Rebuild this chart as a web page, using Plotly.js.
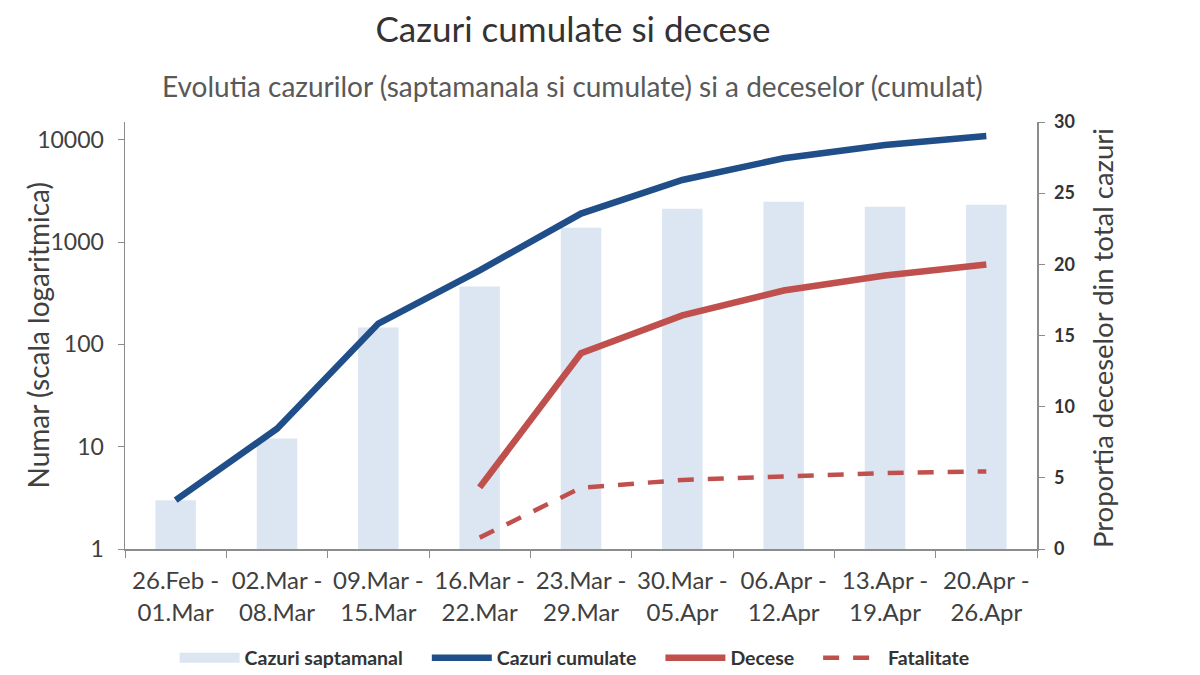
<!DOCTYPE html>
<html>
<head>
<meta charset="utf-8">
<script src="https://cdn.plot.ly/plotly-3.0.1.min.js"></script>
<style>
  html, body { margin: 0; padding: 0; background: #fff; }
  #chart { width: 1200px; height: 675px; }
</style>
</head>
<body>
<div id="chart"></div>
<script>
// etichete saptamani
const weeks = [
    '26.Feb -<br>01.Mar', '02.Mar -<br>08.Mar', '09.Mar -<br>15.Mar',
    '16.Mar -<br>22.Mar', '23.Mar -<br>29.Mar', '30.Mar -<br>05.Apr',
    '06.Apr -<br>12.Apr', '13.Apr -<br>19.Apr', '20.Apr -<br>26.Apr'
];
// valori
const weeklyCases = [3, 12, 146, 368, 1385, 2122, 2483, 2220, 2322];
const cumulativeCases = [3, 15, 160, 530, 1900, 4050, 6600, 8900, 10900];
const deaths = [null, null, null, 4, 82, 192, 336, 471, 603];
const fatality = [null, null, null, 0.8, 4.3, 4.85, 5.06, 5.33, 5.45];

const leftTicks = [1, 10, 100, 1000, 10000];

const fontFamily = 'Lato, "Open Sans", sans-serif';
const axisGray = '#8c8c8c';
const textColor = '#404040';
const barColor = '#dce6f2';

// spatiu intre intrarile din legenda (ca in Excel)
const pad = '\u00a0\u00a0\u00a0\u00a0';

const traces = [
    // doar pentru legenda (simbol lat ca in Excel)
    {
        x: [weeks[0]], y: [null], type: 'scatter', mode: 'lines', name: 'Cazuri saptamanal' + pad,
        line: { color: barColor, width: 12 }, yaxis: 'y', hoverinfo: 'skip'
    },
    {
        x: weeks, y: weeklyCases, type: 'bar', name: 'Cazuri saptamanal',
        marker: { color: barColor }, yaxis: 'y', showlegend: false
    },
    {
        x: weeks, y: cumulativeCases, type: 'scatter', mode: 'lines', name: 'Cazuri cumulate' + pad,
        line: { color: '#1f4e89', width: 6.5 }, yaxis: 'y'
    },
    {
        x: weeks, y: deaths, type: 'scatter', mode: 'lines', name: 'Decese' + pad,
        line: { color: '#c0504d', width: 6.5 }, yaxis: 'y'
    },
    {
        x: weeks, y: fatality, type: 'scatter', mode: 'lines', name: 'Fatalitate',
        line: { color: '#c0504d', width: 4.5, dash: '16px,14px' }, yaxis: 'y2'
    }
];

const layout = {
    width: 1200, height: 675,
    paper_bgcolor: '#fff', plot_bgcolor: '#fff',
    font: { family: fontFamily, color: textColor, size: 18 },
    margin: { t: 122, b: 126, l: 125, r: 163, autoexpand: false },
    bargap: 0.6,
    showlegend: true,
    title: {
        text: 'Cazuri cumulate si decese',
        font: { size: 35, color: '#333' },
        xref: 'container', yref: 'container',
        x: 0.4775, xanchor: 'center', y: 1 - 30 / 675, yanchor: 'middle'
    },
    annotations: [
        {
            text: 'Evolutia cazurilor (saptamanala si cumulate) si a deceselor (cumulat)',
            xref: 'paper', yref: 'paper', x: 0.491, y: 1.0843,
            xanchor: 'center', yanchor: 'middle', showarrow: false,
            font: { size: 28, color: '#595959' }
        },
        {
            text: 'Numar (scala logaritmica)',
            xref: 'paper', yref: 'paper', x: -0.0955, y: 0.5,
            xanchor: 'center', yanchor: 'middle', showarrow: false, textangle: -90,
            font: { size: 28, color: textColor }
        },
        {
            text: 'Proportia deceselor din total cazuri',
            xref: 'paper', yref: 'paper', x: 1.0713, y: 0.494,
            xanchor: 'center', yanchor: 'middle', showarrow: false, textangle: -90,
            font: { size: 27.5, color: textColor }
        }
    ],
    xaxis: {
        type: 'category',
        showline: true, linecolor: axisGray, linewidth: 1.5,
        ticks: 'outside', tickson: 'boundaries', ticklen: 7, tickcolor: axisGray,
        tickfont: { size: 24, color: textColor }, ticklabelstandoff: 10,
        showgrid: false, zeroline: false
    },
    yaxis: {
        type: 'log', range: [0, 4.174],
        tickvals: leftTicks, ticktext: leftTicks.map(String),
        showline: true, linecolor: axisGray, linewidth: 1.5,
        ticks: 'outside', ticklen: 6, tickcolor: axisGray,
        tickfont: { size: 23, color: textColor }, ticklabelstandoff: 9,
        showgrid: false, zeroline: false
    },
    yaxis2: {
        overlaying: 'y', side: 'right', range: [0, 30], dtick: 5,
        showline: true, linecolor: axisGray, linewidth: 1.5,
        ticks: 'outside', ticklen: 6, tickcolor: axisGray,
        tickfont: { size: 18, color: '#333', weight: 'bold' }, ticklabelstandoff: 6,
        showgrid: false, zeroline: false
    },
    legend: {
        orientation: 'h', xref: 'paper', x: 0.493, xanchor: 'center',
        y: -0.2553, yanchor: 'middle',
        font: { size: 19.5, color: '#333', weight: 'bold' },
        itemwidth: 60, tracegroupgap: 0
    }
};

Plotly.newPlot('chart', traces, layout, { displayModeBar: false, staticPlot: true });
</script>
</body>
</html>
